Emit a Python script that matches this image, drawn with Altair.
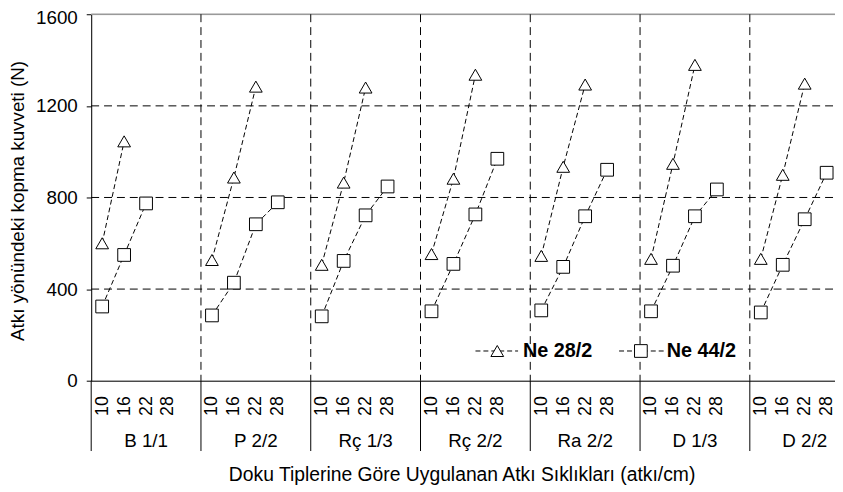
import altair as alt
import pandas as pd

groups = ["B 1/1", "P 2/2", "Rç 1/3", "Rç 2/2", "Ra 2/2", "D 1/3", "D 2/2"]
densities = ["10", "16", "22", "28"]
series_names = ["Ne 28/2", "Ne 44/2"]
ne28 = [
    [600, 1045],
    [527, 887, 1284],
    [506, 865, 1280],
    [553, 882, 1336],
    [545, 934, 1293],
    [532, 947, 1379],
    [532, 899, 1297],
]
ne44 = [
    [324, 549, 774],
    [285, 428, 683, 779],
    [281, 523, 722, 848],
    [303, 510, 726, 969],
    [307, 497, 718, 921],
    [303, 502, 718, 835],
    [298, 506, 705, 908],
]
y_ticks = [0, 400, 800, 1200, 1600]
h_grid = [400, 800, 1200]
slots_per_group = 5

rows = []
for gi, g in enumerate(groups):
    for name, vals in zip(series_names, [ne28, ne44]):
        for di, v in enumerate(vals[gi]):
            rows.append({"group": g, "series": name, "density": densities[di],
                         "slot": gi * slots_per_group + di + 0.5, "value": v})
df = pd.DataFrame(rows)

tick_slots = [gi * slots_per_group + di + 0.5 for gi in range(len(groups)) for di in range(len(densities))]
bounds = [gi * slots_per_group for gi in range(len(groups))]
group_df = pd.DataFrame({"group": groups, "slot": [b + slots_per_group / 2 for b in bounds]})

W, H = 751, 370
FONT = "Liberation Sans"
xs = alt.Scale(domain=[0, 33.88], nice=False, zero=False)
ys = alt.Scale(domain=[0, 1600], nice=False)

x_axis = alt.Axis(
    values=tick_slots,
    labelExpr="['10','16','22','28'][floor(datum.value) % 5]",
    labelAngle=270, ticks=False, tickSize=0, labelPadding=15, grid=False,
    labelFontSize=18, labelFont=FONT, labelColor="black", labelOverlap=False,
    labelFlush=False, labelBound=False, domainColor="black",
    title="Doku Tiplerine Göre Uygulanan Atkı Sıklıkları (atkı/cm)",
    titleFont=FONT, titleFontSize=19.5, titleFontWeight="normal", titleColor="black",
    titleX=374, titleY=95, titleBaseline="middle", titleAlign="center",
)
y_axis = alt.Axis(
    values=y_ticks, format="d", grid=False, tickSize=5, tickColor="black", labelPadding=9,
    labelFontSize=19, labelFont=FONT, labelColor="black", domainColor="black",
    labelFlush=False, labelBound=False,
    labelOffset={"condition": {"test": "datum.value == 1600", "value": 3.5}, "value": 0},
    title="Atkı yönündeki kopma kuvveti (N)", titleFont=FONT, titleFontSize=19,
    titleFontWeight="normal", titleColor="black", titleX=-74, titleY=188,
    titleAngle=270, titleAlign="center", titleBaseline="middle",
)
X = alt.X("slot:Q", scale=xs, axis=x_axis)
Y = alt.Y("value:Q", scale=ys, axis=y_axis)

lines = alt.Chart(df).mark_line(color="black", strokeWidth=1, strokeDash=[5, 3]).encode(
    x=X, y=Y, detail=["group:N", "series:N"])

vgrid = alt.Chart(pd.DataFrame({"slot": bounds[1:]})).mark_rule(
    color="black", strokeWidth=1, strokeDash=[8, 5]).encode(x=X, y=alt.value(0), y2=alt.value(H))
hgrid = alt.Chart(pd.DataFrame({"value": h_grid})).mark_rule(
    color="black", strokeWidth=1, strokeDash=[8, 5]).encode(y=Y, x=alt.value(0), x2=alt.value(W))
top = alt.Chart(pd.DataFrame({"value": [1600]})).mark_rule(
    color="#999999", strokeWidth=1.5).encode(y=Y, x=alt.value(0), x2=alt.value(W))
seps = alt.Chart(pd.DataFrame({"slot": bounds})).mark_rule(
    color="black", strokeWidth=1).encode(x=X, y=alt.value(H), y2=alt.value(H + 71))

points = alt.Chart(df).mark_point(filled=True, fill="white", stroke="black", strokeWidth=1,
                                  size=165, opacity=1).encode(
    x=X, y=Y,
    shape=alt.Shape("series:N", scale=alt.Scale(domain=series_names, range=["triangle-up", "square"]), legend=None))

glabels = alt.Chart(group_df).mark_text(font=FONT, fontSize=19, color="black", baseline="middle").encode(
    x=X, text="group:N", y=alt.value(H + 61))

# legend (drawn inside the plot, bottom right)
leg_y = 340
legend_layers = []
for name, shape, rx1, rx2, px, tx in [
    ("Ne 28/2", "triangle-up", 388, 431, 410, 436),
    ("Ne 44/2", "square", 533, 578, 555, 581),
]:
    one = pd.DataFrame({"series": [name]})
    legend_layers.append(alt.Chart(one).mark_rule(color="black", strokeWidth=1, strokeDash=[5, 3]).encode(
        x=alt.value(rx1), x2=alt.value(rx2), y=alt.value(leg_y)))
    legend_layers.append(alt.Chart(one).mark_point(filled=True, fill="white", stroke="black", strokeWidth=1,
                                                   size=165, opacity=1, shape=shape).encode(
        x=alt.value(px), y=alt.value(leg_y)))
    legend_layers.append(alt.Chart(one).mark_text(font=FONT, fontSize=20, fontWeight="bold", color="black",
                                                  align="left", baseline="middle").encode(
        x=alt.value(tx), y=alt.value(leg_y), text="series:N"))

chart = alt.layer(top, hgrid, vgrid, seps, lines, points, glabels, *legend_layers).properties(
    width=W, height=H,
    autosize=alt.AutoSizeParams(type="none"),
    padding={"left": 84, "top": 4, "right": 0, "bottom": 104},
).configure_view(stroke=None).configure(background="white")

chart.save("out.html", embed_options={"renderer": "svg", "actions": False})
